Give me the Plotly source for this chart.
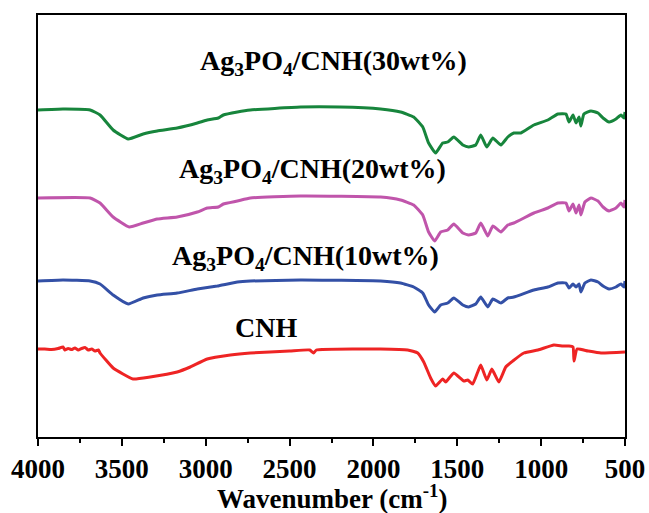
import plotly.graph_objects as go

# Wavenumber (cm-1) and relative transmittance (a.u.)
wn_30 = [4000, 3851, 3689, 3630, 3552, 3462, 3373, 3289, 3170, 3050, 2991, 2925, 2895, 2811, 2734, 2435, 2200,
         1957, 1838, 1760, 1706, 1671, 1629, 1587, 1557, 1521, 1467, 1432, 1390, 1360, 1324, 1288, 1240, 1199,
         1163, 1121, 1043, 960, 900, 852, 834, 810, 792, 774, 763, 745, 703, 661, 631, 595, 554, 524, 506, 500]
t_30 = [327, 328, 327, 322, 307, 298, 303, 306, 309, 314, 317, 319, 322, 325, 327, 330, 330,
        328, 325, 320, 310, 294, 284, 294, 295, 300, 292, 290, 292, 302, 290, 299, 292, 300,
        304, 304, 312, 317, 323, 323, 315, 322, 314, 320, 311, 323, 326, 324, 319, 315, 318, 322, 319, 325]

wn_20 = [4000, 3689, 3630, 3552, 3456, 3373, 3289, 3170, 3050, 2991, 2925, 2895, 2811, 2734, 2435,
         1957, 1838, 1760, 1706, 1671, 1635, 1599, 1557, 1521, 1467, 1432, 1390, 1360, 1318, 1288, 1240, 1199,
         1163, 1043, 960, 900, 852, 834, 810, 792, 774, 763, 739, 703, 661, 631, 595, 554, 524, 506, 500]
t_20 = [239, 239, 234, 220, 210, 214, 218, 220, 225, 229, 230, 233, 236, 239, 241,
        240, 237, 232, 222, 205, 196, 205, 207, 213, 204, 202, 204, 214, 201, 211, 205, 212,
        214, 224, 229, 234, 234, 226, 233, 224, 232, 222, 235, 239, 236, 230, 226, 229, 234, 230, 237]

wn_10 = [4000, 3851, 3689, 3630, 3552, 3462, 3373, 3289, 3170, 3050, 2931, 2811, 2734, 2435,
         1957, 1838, 1760, 1706, 1671, 1635, 1599, 1557, 1521, 1467, 1432, 1390, 1360, 1318, 1288, 1240, 1199,
         1163, 1043, 960, 900, 852, 834, 810, 792, 774, 763, 739, 703, 661, 631, 595, 554, 524, 506, 500]
t_10 = [156, 157, 156, 153, 142, 133, 139, 142, 144, 148, 151, 155, 156, 157,
        156, 154, 150, 144, 132, 125, 132, 134, 139, 132, 130, 133, 140, 130, 138, 134, 139,
        140, 147, 150, 154, 154, 149, 153, 150, 153, 145, 154, 157, 155, 151, 148, 150, 153, 150, 156]

wn_cnh = [4000, 3960, 3920, 3880, 3851, 3840, 3820, 3800, 3780, 3760, 3740, 3720, 3700, 3680, 3660, 3640, 3630,
          3552, 3433, 3331, 3170, 3092, 2991, 2853, 2734, 2500, 2380, 2357, 2340, 2100,
          1957, 1796, 1736, 1700, 1659, 1629, 1587, 1569, 1521, 1461, 1438, 1408, 1378, 1360, 1324, 1294, 1252,
          1211, 1169, 1103, 1019, 924, 870, 834, 810, 804, 786, 721, 643, 500]
t_cnh = [88, 88, 87.5, 88.5, 90, 87, 88.5, 87.5, 89, 87, 88.5, 89.5, 87, 88, 86, 87, 84,
         69, 58, 60, 65, 70, 78, 82, 84, 86, 87, 84, 87, 88,
         88, 87, 84, 75, 59, 51, 58, 55, 64, 56, 57, 53, 65, 72, 57, 68, 55,
         70, 76, 84, 87, 92, 91, 91, 90, 76, 88, 86, 84, 85]

labels = ["Ag<sub>3</sub>PO<sub>4</sub>/CNH(30wt%)", "Ag<sub>3</sub>PO<sub>4</sub>/CNH(20wt%)",
          "Ag<sub>3</sub>PO<sub>4</sub>/CNH(10wt%)", "CNH"]
label_x = [2238, 2363, 2405, 2638]
label_y = [375, 267, 180, 110]
colors = ["#17853C", "#C055AB", "#3350A6", "#EE2424"]

tick_vals = [4000, 3500, 3000, 2500, 2000, 1500, 1000, 500]
x_title = "Wavenumber (cm<sup>-1</sup>)"

fig = go.Figure()
for wn, t, c in [(wn_30, t_30, colors[0]), (wn_20, t_20, colors[1]),
                 (wn_10, t_10, colors[2]), (wn_cnh, t_cnh, colors[3])]:
    fig.add_trace(go.Scatter(x=wn, y=t, mode="lines", line=dict(color=c, width=3, shape="spline", smoothing=0.4),
                             showlegend=False))

for txt, x, y in zip(labels, label_x, label_y):
    fig.add_annotation(x=x, y=y, text="<b>" + txt + "</b>", showarrow=False,
                       font=dict(family="Liberation Serif", size=28, color="black"))

# x-axis title placed just below the tick labels
fig.add_annotation(x=0.5, xref="paper", y=-0.143, yref="paper", yanchor="middle", xanchor="center",
                   text="<b>" + x_title + "</b>", showarrow=False, borderpad=0,
                   font=dict(family="Liberation Serif", size=27, color="black"))

fig.update_layout(
    width=649, height=513,
    margin=dict(l=38, r=24, t=15, b=76),
    plot_bgcolor="white", paper_bgcolor="white",
    font=dict(family="Liberation Serif", size=27, color="black"),
    xaxis=dict(range=[4000, 500], tickvals=tick_vals, ticktext=["<b>%d</b>" % v for v in tick_vals],
               ticks="outside", ticklen=7, tickwidth=2, tickcolor="black", automargin=False,
               minor=dict(ticks="outside", ticklen=4, tickwidth=2, tickcolor="black", dtick=250, tick0=500),
               showline=True, linewidth=2, linecolor="black", mirror=True, showgrid=False, zeroline=False,
               tickfont=dict(size=27)),
    yaxis=dict(range=[0, 422], showticklabels=False, ticks="", showline=True, linewidth=2, automargin=False,
               linecolor="black", mirror=True, showgrid=False, zeroline=False),
)
fig.write_html("out.html")
